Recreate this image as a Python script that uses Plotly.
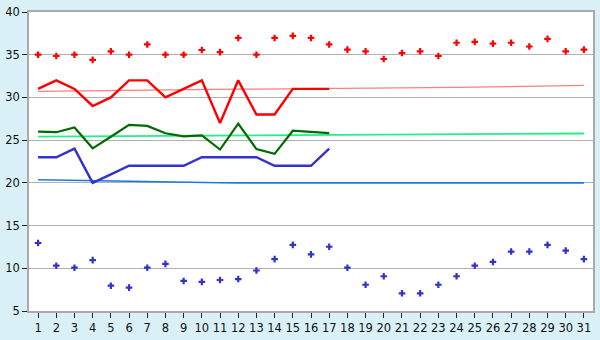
import plotly.graph_objects as go

days = list(range(1, 32))
days17 = list(range(1, 18))

red_points = [35.0, 34.85, 35.0, 34.4, 35.4, 35.0, 36.2, 35.0, 35.0, 35.55,
              35.3, 36.96, 35.0, 36.96, 37.2, 36.96, 36.2, 35.6, 35.4, 34.5,
              35.2, 35.4, 34.85, 36.4, 36.5, 36.3, 36.4, 35.96, 36.85, 35.4, 35.6]
blue_points = [12.96, 10.3, 10.07, 10.96, 7.96, 7.74, 10.07, 10.52, 8.52, 8.41,
               8.63, 8.74, 9.74, 11.07, 12.74, 11.63, 12.52, 10.07, 8.07, 9.07,
               7.07, 7.07, 8.07, 9.07, 10.3, 10.74, 11.96, 11.96, 12.74, 12.07, 11.07]
red_line = [31, 32, 31, 29, 30, 32, 32, 30, 31, 32, 27, 32, 28, 28, 31, 31, 31]
green_line = [26.0, 25.93, 26.48, 24.04, 25.4, 26.78, 26.67, 25.81, 25.44, 25.56,
              23.9, 26.93, 23.96, 23.4, 26.1, 25.93, 25.81]
blue_line = [23, 23, 24, 20, 21, 22, 22, 22, 22, 23, 23, 23, 23, 22, 22, 22, 24]
pink_trend = [30.72, 30.75, 30.78, 30.81, 30.84, 30.86, 30.88, 30.9, 30.92, 30.94,
              30.96, 30.97, 30.98, 30.99, 31.0, 31.01, 31.02, 31.03, 31.05, 31.07,
              31.09, 31.11, 31.14, 31.17, 31.2, 31.23, 31.26, 31.29, 31.32, 31.36, 31.4]
lgreen_trend = [25.42, 25.43, 25.44, 25.45, 25.46, 25.47, 25.48, 25.49, 25.5, 25.51,
                25.52, 25.53, 25.54, 25.55, 25.56, 25.57, 25.58, 25.59, 25.6, 25.61,
                25.62, 25.63, 25.64, 25.66, 25.68, 25.7, 25.71, 25.72, 25.74, 25.76, 25.78]
lblue_trend = [20.36, 20.32, 20.27, 20.23, 20.19, 20.15, 20.12, 20.09, 20.06, 20.03,
               20.01, 20.0, 20.0, 20.0, 20.0, 20.0, 20.0, 20.0, 20.0, 20.0,
               20.0, 20.0, 20.0, 20.0, 20.0, 20.0, 20.0, 20.0, 20.0, 20.0, 20.0]

fig = go.Figure()
fig.add_trace(go.Scatter(x=days, y=pink_trend, mode="lines",
                         line=dict(color="#ff7f7f", width=1.3)))
fig.add_trace(go.Scatter(x=days, y=lgreen_trend, mode="lines",
                         line=dict(color="#22f08a", width=1.8)))
fig.add_trace(go.Scatter(x=days, y=lblue_trend, mode="lines",
                         line=dict(color="#1a78e0", width=1.6)))
fig.add_trace(go.Scatter(x=days17, y=red_line, mode="lines",
                         line=dict(color="#ff0000", width=2.4)))
fig.add_trace(go.Scatter(x=days17, y=green_line, mode="lines",
                         line=dict(color="#006a00", width=2.2)))
fig.add_trace(go.Scatter(x=days17, y=blue_line, mode="lines",
                         line=dict(color="#3333cc", width=2.4)))
fig.add_trace(go.Scatter(x=days, y=red_points, mode="markers",
                         marker=dict(symbol="cross", size=5.5, color="#ff0000")))
fig.add_trace(go.Scatter(x=days, y=blue_points, mode="markers",
                         marker=dict(symbol="cross", size=5.5, color="#3333cc")))

axis_common = dict(showline=True, linecolor="#aaaaaa", linewidth=1.5, mirror=True,
                   ticks="outside", ticklen=5, tickcolor="#222222",
                   tickfont=dict(family="DejaVu Sans", size=11.5, color="#111111"),
                   zeroline=False)
fig.update_xaxes(range=[0.5, 31.5], tickmode="array", tickvals=days,
                 ticktext=[str(d) for d in days], showgrid=False, **axis_common)
fig.update_yaxes(range=[5, 40], dtick=5, showgrid=True, gridcolor="#b0b0b0",
                 gridwidth=1.2, **axis_common)
fig.update_layout(width=600, height=340, margin=dict(l=21, r=5, t=5, b=20),
                  paper_bgcolor="#d9f0f7", plot_bgcolor="#ffffff",
                  showlegend=False)
fig.write_html("out.html")
